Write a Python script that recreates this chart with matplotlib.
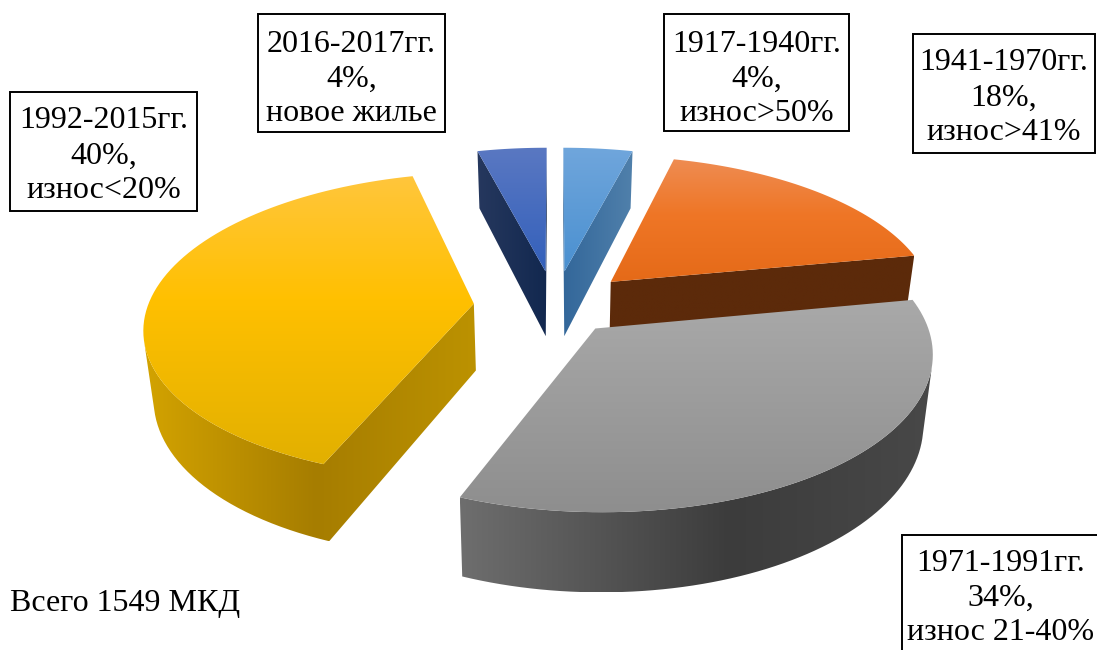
# plot.py
# exploded 3D pie of housing stock by build period

import numpy as np
import matplotlib
matplotlib.use('Agg')
import matplotlib.pyplot as plt
from matplotlib.colors import LinearSegmentedColormap
from matplotlib.patches import PathPatch, Rectangle
from matplotlib.path import Path

plt.rcParams['font.family'] = ['Liberation Serif', 'DejaVu Serif']

periods = ['1917-1940гг.', '1941-1970гг.', '1971-1991гг.', '1992-2015гг.', '2016-2017гг.']
shares = [4, 18, 34, 40, 4]
notes = ['износ>50%', 'износ>41%', 'износ 21-40%', 'износ<20%', 'новое жилье']
total_label = 'Всего 1549 МКД'

top_colors = [
    [(0, '#70A6DC'), (1, '#4A90D0')],
    [(0, '#EE8C52'), (0.45, '#EF7626'), (1, '#E56A18')],
    [(0, '#A9A9A9'), (1, '#8E8E8E')],
    [(0, '#FFC63C'), (0.43, '#FFC000'), (1, '#E2B000')],
    [(0, '#5A78C2'), (1, '#3360BB')],
]
wall_colors = [
    [(0, '#33679A'), (1, '#5080AB')],
    [(0, '#5C2A0A'), (1, '#5C2A0A')],
    [(0, '#6E6E6E'), (0.57, '#3C3C3C'), (1, '#484848')],
    [(0, '#D3A300'), (0.52, '#A67D00'), (1, '#BC9200')],
    [(0, '#26385E'), (1, '#12284F')],
]
explode = [0.24, 0.24, 0.19, 0.25, 0.24]
draw_order = [4, 0, 1, 3, 2]

# label boxes: x0, y0, x1, y1 in pixels
boxes = [(664, 14, 849, 131), (913, 34, 1095, 153), (902, 535, 1099, 652),
         (10, 92, 197, 211), (258, 14, 445, 132)]
text_shift = [2, 0, 0, 0, 2]

# pie projection
CX, CY = 555, 373
SCALE_X, SCALE_Y = 326, 160
DIST = 7
HEIGHT = 67
BOTTOM_SHRINK = 0.975  # base of the pie is further from the camera


def project(u, v, z):
    k = DIST / (DIST - v)
    shrink = BOTTOM_SHRINK + (1 - BOTTOM_SHRINK) * z
    return CX + SCALE_X * u * k * shrink, CY + (SCALE_Y * v - HEIGHT * z) * k


def area(poly):
    x, y = poly[:, 0], poly[:, 1]
    return 0.5 * np.sum(x * np.roll(y, -1) - np.roll(x, -1) * y)


def fill_gradient(ax, polys, stops, vertical, zorder):
    # gradient image clipped to the polygons
    verts, codes = [], []
    for p in polys:
        verts.extend(p.tolist() + [p[0].tolist()])
        codes.extend([Path.MOVETO] + [Path.LINETO] * (len(p) - 1) + [Path.CLOSEPOLY])
    pts = np.vstack(polys)
    x0, y0 = pts.min(axis=0)
    x1, y1 = pts.max(axis=0)
    cmap = LinearSegmentedColormap.from_list('g', stops)
    grad = np.linspace(0, 1, 256)
    grad = grad[:, None] if vertical else grad[None, :]
    patch = PathPatch(Path(verts, codes), transform=ax.transData, fc='none', ec='none')
    ax.add_patch(patch)
    im = ax.imshow(grad, cmap=cmap, extent=(x0, x1, y1, y0), aspect='auto',
                   interpolation='bilinear', zorder=zorder)
    im.set_clip_path(patch)


def draw_slice(ax, start, end, offset, top_stops, wall_stops, zorder):
    mid = (start + end) / 2
    ou, ov = offset * np.sin(mid), -offset * np.cos(mid)
    ang = np.linspace(start, end, 80)
    au, av = ou + np.sin(ang), ov - np.cos(ang)

    top_rim = np.column_stack(project(au, av, 1))
    low_rim = np.column_stack(project(au, av, 0))
    apex_top = np.array(project(ou, ov, 1))
    apex_low = np.array(project(ou, ov, 0))

    walls = []
    # outer rim, only the run facing the viewer
    seg = []
    for i in range(len(ang) - 1):
        quad = np.array([top_rim[i], top_rim[i + 1], low_rim[i + 1], low_rim[i]])
        seg.append(area(quad) < 0)
    seg = np.array(seg)
    if seg.any():
        idx = np.where(seg)[0]
        a, b = idx[0], idx[-1] + 2
        walls.append(np.vstack([top_rim[a:b], low_rim[a:b][::-1]]))
    # the two cut faces
    w1 = np.array([apex_top, top_rim[0], low_rim[0], apex_low])
    w2 = np.array([top_rim[-1], apex_top, apex_low, low_rim[-1]])
    for w in (w1, w2):
        if area(w) < -1:
            walls.append(w)

    if walls:
        fill_gradient(ax, walls, wall_stops, False, zorder)
    top = np.vstack([apex_top, top_rim])
    fill_gradient(ax, [top], top_stops, True, zorder + 0.5)


def main():
    fig = plt.figure(figsize=(10.97, 6.5), dpi=100)
    ax = fig.add_axes([0, 0, 1, 1])

    edges = np.radians(np.concatenate([[0], np.cumsum(shares)]) * 3.6)
    for n, i in enumerate(draw_order):
        draw_slice(ax, edges[i], edges[i + 1], explode[i], top_colors[i], wall_colors[i], 2 + n)

    for i, (x0, y0, x1, y1) in enumerate(boxes):
        ax.add_patch(Rectangle((x0, y0), x1 - x0, y1 - y0, fc='white', ec='black', lw=1.4, zorder=10))
        xc = (x0 + x1) / 2
        h = y1 - y0
        ys = y0 + text_shift[i]
        ax.text(xc, ys + h * 0.24, periods[i], ha='center', va='center', fontsize=23, zorder=11)
        ax.text(xc, ys + h * 0.54, f'{shares[i]}%,', ha='center', va='center', fontsize=23, zorder=11)
        ax.text(xc, ys + h * 0.83, notes[i], ha='center', va='center', fontsize=23, zorder=11)

    ax.text(10, 603, total_label, ha='left', va='center', fontsize=23, zorder=11)

    ax.set_xlim(0, 1097)
    ax.set_ylim(650, 0)
    ax.axis('off')
    fig.savefig('out.png', dpi=100)


if __name__ == '__main__':
    main()
